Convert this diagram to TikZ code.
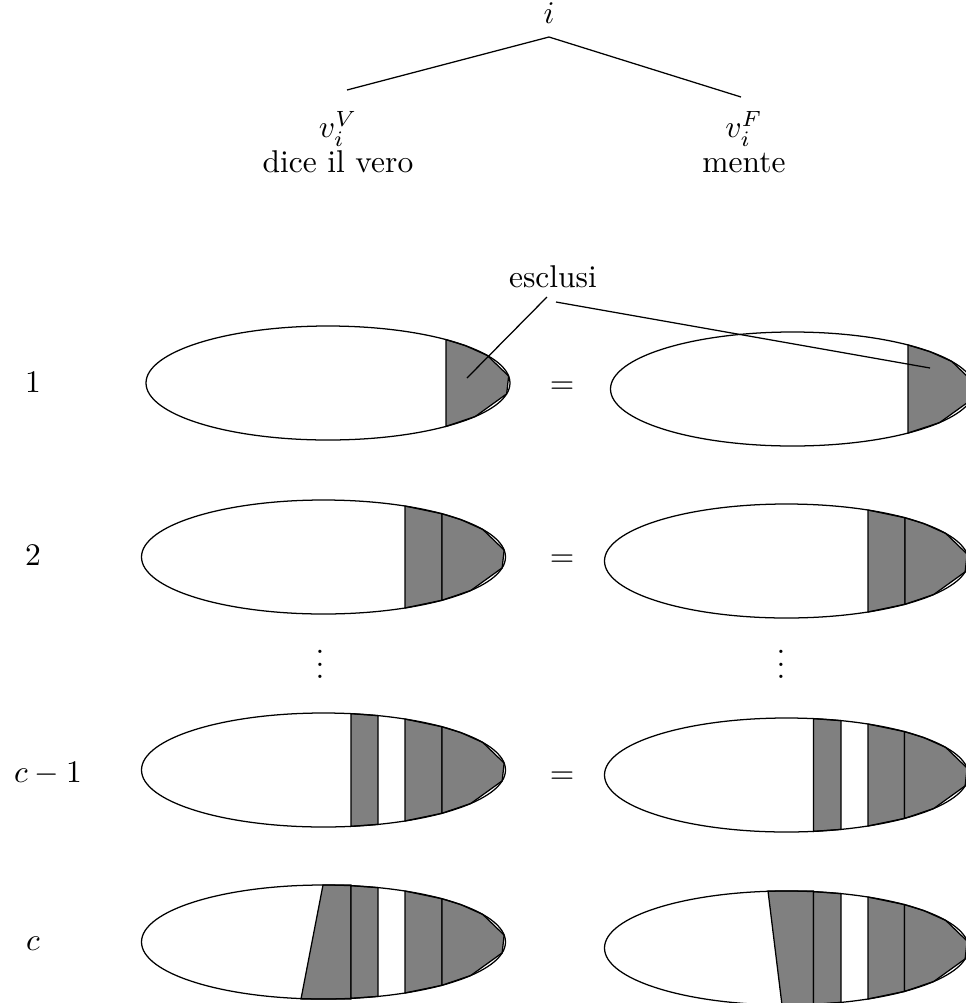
\documentclass[tikz,border=0pt]{standalone}
\newcommand\ERx{182}
\newcommand\ERy{57}
\newcommand\EY[1]{\ERy*sqrt(1-(#1/\ERx)^2)}
\newcommand\EStrip[2]{\filldraw[shd] ({#1},{-\EY{#1}}) -- ({#2},{-\EY{#2}}) -- ({#2},{\EY{#2}}) -- ({#1},{\EY{#1}}) -- cycle;}
\newcommand\ECap[1]{\filldraw[shd] ({#1},{-\EY{#1}}) -- ({\ERx*cos(41)},{-\ERy*sin(41)}) -- ({\ERx*cos(29)},{-\ERy*sin(29)}) -- ({\ERx*cos(7)},{-\ERy*sin(7)}) -- ({\ERx*cos(-11)},{-\ERy*sin(-11)}) -- ({\ERx*cos(-36)},{-\ERy*sin(-36)}) -- ({#1},{\EY{#1}}) -- cycle;}
\newcommand\EOutline{\draw (0,0) ellipse [x radius=\ERx, y radius=\ERy];}
\tikzset{
  shd/.style={fill=gray, draw=black},
  lbl/.style={anchor=base, inner sep=0pt},
  leaf/.style={anchor=base, inner sep=0pt, align=center},
}
\begin{document}
\begin{tikzpicture}[x=0.3175pt,y=-0.3175pt, line width=0.4pt]
\useasboundingbox (0,0) rectangle (966,1003);
% tree
\node[lbl] (i) at (549,23) {$i$};
\node[leaf] (vV) at (338,172) {$v_i^V$\\[-1.2pt]dice il vero};
\node[leaf] (vF) at (744,172) {$v_i^F$\\[-1.2pt]mente};
\coordinate (iS) at (549,37);
\coordinate (vVN) at (347,90);
\coordinate (vFN) at (741,97);
\draw (iS) -- (vVN);
\draw (iS) -- (vFN);
% row labels
\node[lbl] (r1) at (33,392) {$1$};
\node[lbl] (r2) at (33,565) {$2$};
\node[lbl] (r3) at (48,782) {$c-1$};
\node[lbl] (r4) at (33,950) {$c$};
% equals
\node[lbl] (eq1) at (562,393) {$=$};
\node[lbl] (eq2) at (562,566) {$=$};
\node[lbl] (eq3) at (562,783) {$=$};
% dots
\node[inner sep=0pt] (dl) at (320,655) {$\vdots$};
\node[inner sep=0pt] (dr) at (781,655) {$\vdots$};
% row 1
\begin{scope}[shift={(328,383)}]
\ECap{118} \EOutline
\end{scope}
\begin{scope}[shift={(792.5,389)}]
\ECap{115.5} \EOutline
\end{scope}
% row 2
\begin{scope}[shift={(323.5,557)}]
\EStrip{81.5}{118.5} \ECap{118.5} \EOutline
\end{scope}
\begin{scope}[shift={(786.5,561)}]
\EStrip{81.5}{118.5} \ECap{118.5} \EOutline
\end{scope}
% row c-1
\begin{scope}[shift={(323.5,770)}]
\EStrip{27.5}{54.5} \EStrip{81.5}{118.5} \ECap{118.5} \EOutline
\end{scope}
\begin{scope}[shift={(786.5,775)}]
\EStrip{27}{54.5} \EStrip{81.5}{118} \ECap{118} \EOutline
\end{scope}
% row c
\begin{scope}[shift={(323.5,942)}]
\filldraw[shd] (-0.5,-\ERy) -- (27.5,-\ERy) -- (27.5,\ERy) -- (-22.5,\ERy) -- cycle;
\EStrip{27.5}{54.5} \EStrip{81.5}{118.5} \ECap{118.5} \EOutline
\end{scope}
\begin{scope}[shift={(786.5,948)}]
\filldraw[shd] (-18.5,-\ERy) -- (27,-\ERy) -- (27,\ERy) -- (-4.5,\ERy) -- cycle;
\EStrip{27}{54.5} \EStrip{81.5}{118} \ECap{118} \EOutline
\end{scope}
% esclusi
\node[lbl] (esc) at (553,287) {esclusi};
\coordinate (escA) at (547,297);
\coordinate (escB) at (556,302);
\coordinate (exL) at (467,378);
\coordinate (exR) at (930,368);
\draw (escA) -- (exL);
\draw (escB) -- (exR);
\end{tikzpicture}
\end{document}
